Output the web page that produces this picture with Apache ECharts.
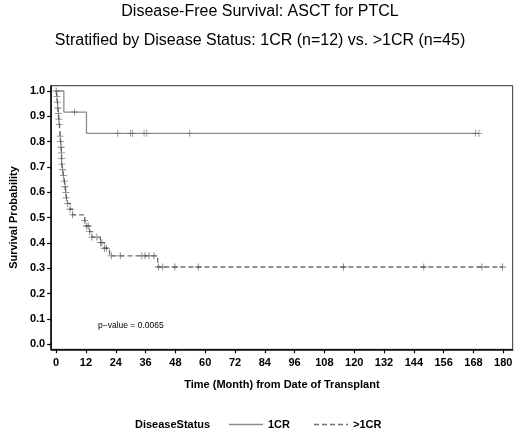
<!DOCTYPE html>
<html>
<head>
<meta charset="utf-8">
<script src="https://cdn.jsdelivr.net/npm/echarts@6/dist/echarts.min.js"></script>
<style>
html,body{margin:0;padding:0;background:#fff;}
#chart{width:520px;height:433px;}
</style>
</head>
<body>
<div id="chart"></div>
<script>
// ---- data ----
var xTicks = [0,12,24,36,48,60,72,84,96,108,120,132,144,156,168,180];
var yTicks = [0,0.1,0.2,0.3,0.4,0.5,0.6,0.7,0.8,0.9,1.0];

// 1CR (n=12): KM step points (time, survival)
var timeA = [0, 3.1, 12.2, 170.2];
var survA = [1.0, 0.917, 0.833, 0.833];
// 1CR censor marks
var censTimeA = [7.4, 24.8, 29.9, 30.7, 35.4, 36.5, 53.8, 168.8, 170.2];
var censSurvA = [0.917, 0.833, 0.833, 0.833, 0.833, 0.833, 0.833, 0.833, 0.833];

// >1CR (n=45): KM step points (time, survival)
var timeB = [0, 0.3, 0.5, 0.7, 0.9, 1.1, 1.3, 1.6, 1.8, 2.0, 2.1, 2.2, 2.3, 2.6, 2.9, 3.3, 3.6, 3.9, 4.1, 4.6, 5.6, 6.6,
             11.5, 12.2, 13.5, 14.4, 17.8, 19.4, 21.5, 40.9, 179.7];
var survB = [1.0, 0.978, 0.956, 0.933, 0.911, 0.889, 0.867, 0.822, 0.800, 0.778, 0.756, 0.733, 0.711, 0.689, 0.667, 0.644, 0.622, 0.600, 0.578, 0.556, 0.533, 0.511,
             0.489, 0.467, 0.445, 0.423, 0.401, 0.379, 0.349, 0.305, 0.305];
// >1CR marks
var censTimeB = [0, 0.3, 0.5, 0.7, 0.9, 1.1, 1.3, 1.6, 1.8, 2.0, 2.1, 2.2, 2.3, 2.6, 2.9, 3.3, 3.6, 3.9, 4.1, 4.6, 5.6, 6.6,
                 11.5, 12.2, 12.9, 13.5, 14.4, 16.4, 17.8, 18.4, 19.4, 20.2, 22.2, 25.8, 34.5, 35.8, 37.4, 39.4,
                 41.2, 42.9, 47.8, 57.2, 115.7, 148.0, 171.4, 179.7];
var censSurvB = [1.0, 0.978, 0.956, 0.933, 0.911, 0.889, 0.867, 0.822, 0.800, 0.778, 0.756, 0.733, 0.711, 0.689, 0.667, 0.644, 0.622, 0.600, 0.578, 0.556, 0.533, 0.511,
                 0.489, 0.467, 0.467, 0.445, 0.423, 0.423, 0.401, 0.401, 0.379, 0.379, 0.349, 0.349, 0.349, 0.349, 0.349, 0.349,
                 0.305, 0.305, 0.305, 0.305, 0.305, 0.305, 0.305, 0.305];

var seriesNames = ['1CR', '>1CR'];
var pValueText = 'p\u2212value = 0.0065';

function zip(a, b) { return a.map(function (v, i) { return [v, b[i]]; }); }

var FONT = '"Liberation Sans", Arial, sans-serif';
var plusPath = 'path://M-0.12,-1H0.12V-0.12H1V0.12H0.12V1H-0.12V0.12H-1V-0.12H-0.12Z';
var solidIcon = 'path://M0,0H34V1H0Z';
var dashIcon = 'path://M0,0H5V1H0Z M8,0H13V1H8Z M16,0H21V1H16Z M24,0H29V1H24Z M32,0H34V1H32Z';

var chart = echarts.init(document.getElementById('chart'), null, {renderer: 'canvas'});
var option = {
  backgroundColor: '#fff',
  animation: false,
  title: [
    {text: 'Disease-Free Survival: ASCT for PTCL', left: 'center', top: -1,
     textStyle: {fontFamily: FONT, fontSize: 16, fontWeight: 'normal', color: '#000'}},
    {text: 'Stratified by Disease Status: 1CR (n=12) vs. >1CR (n=45)', left: 'center', top: 27.5,
     textStyle: {fontFamily: FONT, fontSize: 16, fontWeight: 'normal', color: '#000'}}
  ],
  grid: {left: 46.7, right: 7.3, top: 85.7, bottom: 83.7, show: true, borderColor: '#333', borderWidth: 1, backgroundColor: 'transparent'},
  xAxis: {
    type: 'value', min: -2, max: 183.8,
    name: 'Time (Month) from Date of Transplant', nameLocation: 'middle', nameGap: 30,
    nameTextStyle: {fontFamily: FONT, fontSize: 11, fontWeight: 'bold', color: '#000'},
    axisLine: {show: true, onZero: false, lineStyle: {color: '#000', width: 1.5}},
    axisTick: {show: true, customValues: xTicks, length: 4, lineStyle: {color: '#000', width: 1.2}},
    axisLabel: {customValues: xTicks, margin: 8, fontFamily: FONT, fontSize: 11, fontWeight: 'bold', color: '#000'},
    splitLine: {show: false}
  },
  yAxis: {
    type: 'value', min: -0.02, max: 1.021,
    name: 'Survival Probability', nameLocation: 'middle', nameGap: 29, nameRotate: 90,
    nameTextStyle: {fontFamily: FONT, fontSize: 11, fontWeight: 'bold', color: '#000'},
    axisLine: {show: true, onZero: false, lineStyle: {color: '#000', width: 1.5}},
    axisTick: {show: true, customValues: yTicks, length: 4, lineStyle: {color: '#000', width: 1.2}},
    axisLabel: {customValues: yTicks, margin: 6, fontFamily: FONT, fontSize: 11, fontWeight: 'bold', color: '#000',
      formatter: function (v) { return v.toFixed(1); }},
    splitLine: {show: false}
  },
  legend: {
    data: [
      {name: seriesNames[0], icon: solidIcon, itemStyle: {color: '#8c8c8c'}},
      {name: seriesNames[1], icon: dashIcon, itemStyle: {color: '#707070'}}
    ],
    left: 229, top: 419, padding: 0, itemWidth: 34, itemHeight: 1.3, itemGap: 24, symbolKeepAspect: false,
    textStyle: {fontFamily: FONT, fontSize: 11, fontWeight: 'bold', color: '#000'}
  },
  graphic: [
    {type: 'text', left: 135, top: 419, style: {text: 'DiseaseStatus', font: 'bold 11px ' + FONT, fill: '#000'}},
    {type: 'text', left: 98, top: 321, style: {text: pValueText, font: '8.5px ' + FONT, fill: '#000'}}
  ],
  series: [
    {name: seriesNames[0], type: 'line', step: 'end', showSymbol: false, symbol: 'none',
     data: zip(timeA, survA), lineStyle: {color: '#8c8c8c', width: 1.3, type: 'solid'}, itemStyle: {color: '#8c8c8c'}, z: 3},
    {name: seriesNames[1], type: 'line', step: 'end', showSymbol: false, symbol: 'none',
     data: zip(timeB, survB), lineStyle: {color: '#707070', width: 1.3, type: [5, 3]}, itemStyle: {color: '#707070'}, z: 3},
    {name: 'cens1', type: 'scatter', symbol: plusPath, symbolSize: 7,
     data: zip(censTimeA, censSurvA), itemStyle: {color: '#6a6a6a'}, z: 4},
    {name: 'cens2', type: 'scatter', symbol: plusPath, symbolSize: 7,
     data: zip(censTimeB, censSurvB), itemStyle: {color: '#555'}, z: 4}
  ]
};
chart.setOption(option);
</script>
</body>
</html>
